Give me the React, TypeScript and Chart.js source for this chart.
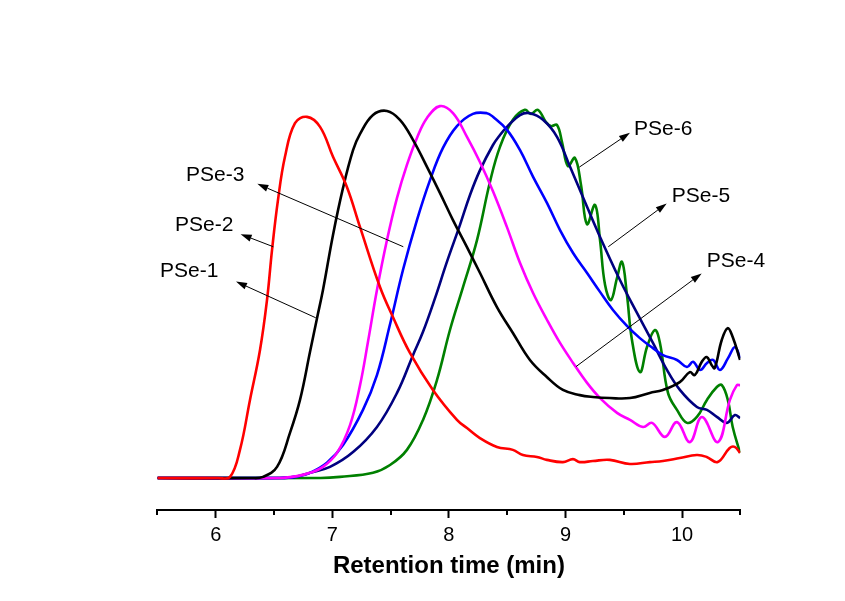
import React, { useEffect, useRef } from "react";
import { Chart, registerables } from "chart.js";

Chart.register(...registerables);

const FONT = '"Liberation Sans", Arial, Helvetica, sans-serif';

// Retention time (min) / normalized detector response
const pse1X = [5.5, 6.02, 6.123, 6.208, 6.294, 6.38, 6.44, 6.483, 6.534, 6.594, 6.68, 6.783, 6.895, 7.006, 7.126, 7.238, 7.409, 7.52, 7.666, 7.863, 8.069, 8.155, 8.266, 8.412, 8.549, 8.635, 8.755, 8.84, 8.978, 9.064, 9.123, 9.235, 9.38, 9.552, 9.723, 9.835, 9.98, 10.126, 10.211, 10.305, 10.408, 10.451, 10.497];
const pse1Y = [0, 0, 0.003, 0.076, 0.211, 0.346, 0.481, 0.616, 0.751, 0.868, 0.959, 0.976, 0.949, 0.868, 0.786, 0.678, 0.516, 0.435, 0.338, 0.238, 0.157, 0.135, 0.108, 0.084, 0.076, 0.062, 0.057, 0.049, 0.043, 0.051, 0.043, 0.046, 0.049, 0.038, 0.043, 0.046, 0.054, 0.062, 0.057, 0.043, 0.081, 0.084, 0.068];

const pse2X = [5.5, 6.3, 6.406, 6.526, 6.637, 6.723, 6.809, 6.869, 6.92, 7.006, 7.092, 7.178, 7.238, 7.349, 7.469, 7.58, 7.692, 7.812, 7.924, 8.035, 8.155, 8.267, 8.412, 8.549, 8.695, 8.84, 8.978, 9.123, 9.235, 9.38, 9.552, 9.723, 9.835, 9.98, 10.066, 10.109, 10.169, 10.211, 10.254, 10.28, 10.34, 10.391, 10.434, 10.497];
const pse2Y = [0, 0, 0.003, 0.03, 0.122, 0.211, 0.341, 0.432, 0.508, 0.657, 0.784, 0.886, 0.93, 0.981, 0.992, 0.968, 0.914, 0.841, 0.77, 0.697, 0.624, 0.554, 0.462, 0.392, 0.319, 0.273, 0.238, 0.224, 0.219, 0.216, 0.216, 0.23, 0.238, 0.259, 0.286, 0.278, 0.314, 0.327, 0.305, 0.297, 0.373, 0.405, 0.381, 0.319];

const pse3X = [5.5, 6.55, 6.698, 6.809, 6.92, 7.04, 7.152, 7.238, 7.306, 7.383, 7.469, 7.555, 7.64, 7.726, 7.812, 7.923, 8.035, 8.155, 8.266, 8.378, 8.498, 8.61, 8.722, 8.842, 8.953, 9.065, 9.185, 9.296, 9.442, 9.553, 9.665, 9.742, 9.853, 9.956, 10.067, 10.17, 10.307, 10.41, 10.47, 10.497];
const pse3Y = [0, 0, 0.005, 0.014, 0.03, 0.068, 0.143, 0.251, 0.368, 0.508, 0.643, 0.757, 0.846, 0.919, 0.973, 1.005, 0.986, 0.922, 0.854, 0.775, 0.678, 0.581, 0.5, 0.427, 0.365, 0.311, 0.257, 0.216, 0.176, 0.157, 0.138, 0.149, 0.111, 0.151, 0.097, 0.165, 0.097, 0.211, 0.251, 0.251];

const pse4X = [5.5, 6.55, 6.682, 6.809, 6.954, 7.092, 7.263, 7.383, 7.494, 7.606, 7.726, 7.838, 7.949, 8.069, 8.206, 8.326, 8.378, 8.498, 8.61, 8.722, 8.842, 8.953, 9.065, 9.185, 9.296, 9.407, 9.527, 9.638, 9.75, 9.836, 9.956, 10.042, 10.094, 10.154, 10.214, 10.265, 10.325, 10.394, 10.454, 10.497];
const pse4Y = [0, 0, 0.003, 0.014, 0.041, 0.089, 0.184, 0.278, 0.414, 0.562, 0.697, 0.805, 0.892, 0.951, 0.984, 0.986, 0.976, 0.941, 0.886, 0.814, 0.743, 0.67, 0.608, 0.554, 0.503, 0.454, 0.411, 0.378, 0.351, 0.332, 0.319, 0.3, 0.314, 0.292, 0.311, 0.319, 0.292, 0.324, 0.354, 0.324];

const pse5X = [5.5, 6.55, 6.682, 6.809, 6.98, 7.178, 7.383, 7.555, 7.692, 7.778, 7.881, 7.983, 8.095, 8.181, 8.267, 8.378, 8.438, 8.498, 8.61, 8.695, 8.807, 8.927, 9.039, 9.15, 9.27, 9.467, 9.613, 9.75, 9.87, 9.981, 10.127, 10.213, 10.298, 10.384, 10.453, 10.497];
const pse5Y = [0, 0, 0.003, 0.014, 0.03, 0.07, 0.138, 0.23, 0.332, 0.395, 0.486, 0.584, 0.684, 0.765, 0.832, 0.9, 0.927, 0.949, 0.981, 0.986, 0.968, 0.922, 0.841, 0.759, 0.67, 0.535, 0.446, 0.365, 0.292, 0.238, 0.192, 0.184, 0.165, 0.149, 0.17, 0.162];

const pse6X = [5.5, 6.9, 7.066, 7.349, 7.495, 7.64, 7.778, 7.898, 8.009, 8.121, 8.241, 8.352, 8.438, 8.549, 8.652, 8.703, 8.763, 8.832, 8.875, 8.927, 8.97, 9.021, 9.081, 9.133, 9.184, 9.253, 9.296, 9.339, 9.39, 9.442, 9.485, 9.527, 9.57, 9.639, 9.699, 9.767, 9.81, 9.879, 9.956, 10.042, 10.127, 10.213, 10.298, 10.341, 10.392, 10.434, 10.497];
const pse6Y = [0, 0, 0.003, 0.014, 0.035, 0.076, 0.157, 0.265, 0.4, 0.516, 0.643, 0.8, 0.895, 0.968, 0.995, 0.984, 0.995, 0.962, 0.951, 0.954, 0.908, 0.843, 0.865, 0.792, 0.686, 0.738, 0.643, 0.522, 0.481, 0.541, 0.584, 0.495, 0.373, 0.286, 0.354, 0.4, 0.365, 0.23, 0.184, 0.149, 0.165, 0.211, 0.246, 0.251, 0.211, 0.138, 0.068];

const seriesNames = ["PSe-1", "PSe-2", "PSe-3", "PSe-4", "PSe-5", "PSe-6"];
const seriesColors = ["#ff0000", "#000000", "#ff00ff", "#0000ff", "#000080", "#008000"];
const seriesXs = [pse1X, pse2X, pse3X, pse4X, pse5X, pse6X];
const seriesYs = [pse1Y, pse2Y, pse3Y, pse4Y, pse5Y, pse6Y];

const xTickLabels = ["6", "7", "8", "9", "10"];

// Annotation callouts (data coordinates): label anchor, arrow tail, arrow head
const calloutLabels = ["PSe-3", "PSe-2", "PSe-1", "PSe-6", "PSe-5", "PSe-4"];
const calloutTextX = [5.745, 5.651, 5.522, 9.588, 9.911, 10.211];
const calloutTextY = [0.819, 0.684, 0.558, 0.942, 0.762, 0.585];
const calloutTailX = [7.609, 6.494, 6.858, 9.118, 9.367, 9.09];
const calloutTailY = [0.625, 0.625, 0.433, 0.84, 0.625, 0.301];
const calloutHeadX = [6.357, 6.214, 6.174, 9.553, 9.868, 10.168];
const calloutHeadY = [0.795, 0.659, 0.531, 0.933, 0.742, 0.553];

const calloutPlugin = {
  id: "callouts",
  afterDatasetsDraw(chart: any) {
    const { ctx, scales } = chart;
    const xs = scales.x;
    const ys = scales.y;
    ctx.save();
    ctx.strokeStyle = "#000";
    ctx.fillStyle = "#000";
    ctx.lineWidth = 1;
    for (let i = 0; i < calloutLabels.length; i++) {
      const x1 = xs.getPixelForValue(calloutTailX[i]);
      const y1 = ys.getPixelForValue(calloutTailY[i]);
      const x2 = xs.getPixelForValue(calloutHeadX[i]);
      const y2 = ys.getPixelForValue(calloutHeadY[i]);
      const ang = Math.atan2(y2 - y1, x2 - x1);
      const hl = 11;
      const hw = 3.5;
      const bx = x2 - hl * Math.cos(ang);
      const by = y2 - hl * Math.sin(ang);
      ctx.beginPath();
      ctx.moveTo(x1, y1);
      ctx.lineTo(bx, by);
      ctx.stroke();
      ctx.beginPath();
      ctx.moveTo(x2, y2);
      ctx.lineTo(bx + hw * Math.sin(ang), by - hw * Math.cos(ang));
      ctx.lineTo(bx - hw * Math.sin(ang), by + hw * Math.cos(ang));
      ctx.closePath();
      ctx.fill();
      ctx.font = `21px ${FONT}`;
      ctx.textAlign = "left";
      ctx.textBaseline = "middle";
      ctx.fillText(
        calloutLabels[i],
        xs.getPixelForValue(calloutTextX[i]),
        ys.getPixelForValue(calloutTextY[i])
      );
    }
    ctx.restore();
  },
};

const minorTickPlugin = {
  id: "minorTicks",
  afterDraw(chart: any) {
    const { ctx, chartArea } = chart;
    const xs = chart.scales.x;
    ctx.save();
    ctx.strokeStyle = "#000";
    ctx.lineWidth = 2;
    for (const t of xs.ticks) {
      if (Number.isInteger(t.value)) continue;
      const px = Math.round(xs.getPixelForValue(t.value));
      ctx.beginPath();
      ctx.moveTo(px, chartArea.bottom);
      ctx.lineTo(px, chartArea.bottom + 5);
      ctx.stroke();
    }
    ctx.restore();
  },
};

export default function App() {
  const canvasRef = useRef<HTMLCanvasElement | null>(null);

  useEffect(() => {
    const canvas = canvasRef.current;
    if (!canvas) return;
    const datasets = seriesNames.map((name, i) => ({
      label: name,
      data: seriesXs[i].map((x, j) => ({ x, y: seriesYs[i][j] })),
      borderColor: seriesColors[i],
      backgroundColor: seriesColors[i],
      borderWidth: 2.6,
      pointRadius: 0,
      fill: false,
      tension: 0.4,
    }));
    const chart = new Chart(canvas, {
      type: "line",
      data: { datasets },
      options: {
        responsive: false,
        animation: false,
        devicePixelRatio: 1,
        layout: { padding: { left: 157.4, right: 104.6, top: 90, bottom: 0 } },
        plugins: {
          legend: { display: false },
          tooltip: { enabled: false },
        },
        scales: {
          x: {
            type: "linear",
            position: "bottom",
            min: 5.5,
            max: 10.5,
            border: { display: true, color: "#000", width: 2 },
            grid: {
              display: true,
              drawOnChartArea: false,
              drawTicks: true,
              tickLength: 8,
              tickWidth: 2,
              tickColor: (c: any) =>
                c.tick && Number.isInteger(c.tick.value) ? "#000" : "rgba(0,0,0,0)",
            },
            ticks: {
              stepSize: 0.5,
              autoSkip: false,
              maxRotation: 0,
              padding: 5,
              color: "#000",
              font: { family: FONT, size: 20 },
              callback: (v: any) => {
                const s = String(v);
                return xTickLabels.includes(s) ? s : "";
              },
            },
            title: {
              display: true,
              text: "Retention time (min)",
              color: "#000",
              font: { family: FONT, size: 24, weight: "bold" },
              padding: { top: 0, bottom: 20 },
            },
            afterFit: (s: any) => {
              s.height = 91;
            },
          },
          y: {
            type: "linear",
            display: false,
            min: -0.0865,
            max: 1.0486,
          },
        },
      },
      plugins: [calloutPlugin, minorTickPlugin],
    });
    return () => chart.destroy();
  }, []);

  return (
    <div style={{ position: "absolute", left: 0, top: 0, width: 845, height: 601, background: "#fff" }}>
      <canvas ref={canvasRef} width={845} height={601} />
    </div>
  );
}
